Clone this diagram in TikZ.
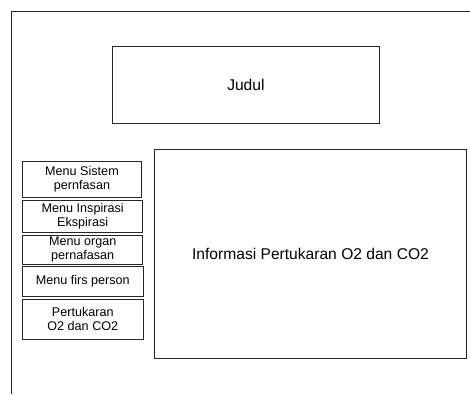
\documentclass[tikz,border=0pt]{standalone}
\usepackage{fontspec}
\setmainfont{Liberation Sans}
\tikzset{
  frameline/.style={line width=0.9pt, draw=black!85},
  panel/.style={draw=black!85, line width=0.9pt, rectangle, inner sep=0pt, align=center,
                font=\fontsize{15.6}{18}\selectfont},
  menubox/.style={panel, font=\fontsize{12.6}{14.3}\selectfont},
}
\begin{document}
\begin{tikzpicture}[x=1pt,y=-1pt]
  \useasboundingbox (0,0) rectangle (470,394);
  % page frame: top and left edges
  \coordinate (tl) at (11,11);
  \coordinate (tr) at (470,11);
  \coordinate (bl) at (11,394);
  \draw[frameline] (tr) -- (tl) -- (bl);

  % title
  \node[panel, minimum width=266.3pt, minimum height=77pt] (judul) at (245.9,84.8) {Judul};

  % side menu
  \node[menubox, minimum width=119.4pt, minimum height=36.7pt] (m1) at (82,179.3) {Menu Sistem\\pernfasan};
  \node[menubox, minimum width=120pt, minimum height=32.4pt] (m2) at (82.7,216.5) {Menu Inspirasi\\Ekspirasi};
  \node[menubox, minimum width=120pt, minimum height=29.3pt] (m3) at (82.7,249.7) {Menu organ\\pernafasan};
  \node[menubox, minimum width=120.3pt, minimum height=30pt] (m4) at (82.8,281.7) {Menu firs person};
  \node[menubox, minimum width=120.3pt, minimum height=40.3pt] (m5) at (82.8,319.2) {Pertukaran\\O2 dan CO2};

  % content area
  \node[panel, minimum width=312.4pt, minimum height=209.3pt] (info) at (310.5,253.7) {Informasi Pertukaran O2 dan CO2};
\end{tikzpicture}
\end{document}
